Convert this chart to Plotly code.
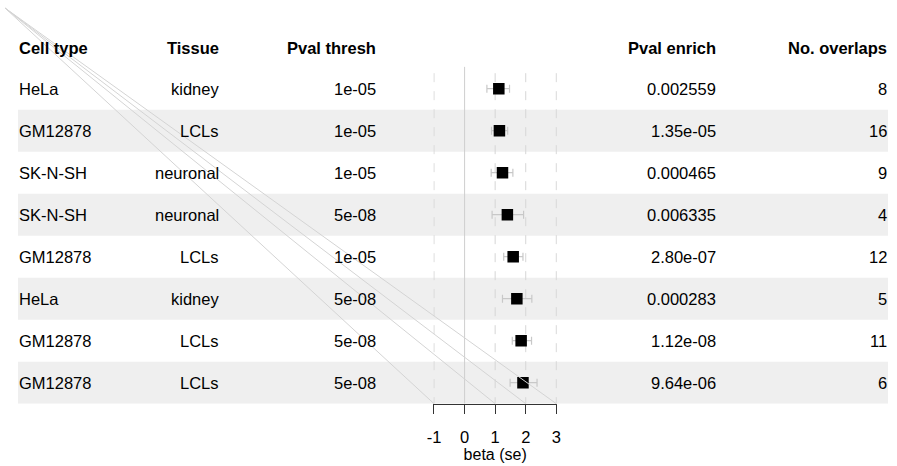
import plotly.graph_objects as go

# ---- data ----
cell_types = ["HeLa", "GM12878", "SK-N-SH", "SK-N-SH", "GM12878", "HeLa", "GM12878", "GM12878"]
tissues = ["kidney", "LCLs", "neuronal", "neuronal", "LCLs", "kidney", "LCLs", "LCLs"]
pval_thresh = ["1e-05", "1e-05", "1e-05", "5e-08", "1e-05", "5e-08", "5e-08", "5e-08"]
pval_enrich = ["0.002559", "1.35e-05", "0.000465", "0.006335", "2.80e-07", "0.000283", "1.12e-08", "9.64e-06"]
n_overlaps = [8, 16, 9, 4, 12, 5, 11, 6]
beta = [1.12, 1.14, 1.24, 1.40, 1.59, 1.71, 1.85, 1.91]
ci_lo = [0.73, 0.88, 0.87, 0.90, 1.28, 1.24, 1.56, 1.49]
ci_hi = [1.47, 1.41, 1.58, 1.93, 1.91, 2.20, 2.19, 2.37]
headers = ["Cell type", "Tissue", "Pval thresh", "Pval enrich", "No. overlaps"]
x_ticks = [-1, 0, 1, 2, 3]
grid_x = [-1, 1, 2, 3]

# ---- layout constants ----
W, H = 897, 466
FONT = "Liberation Sans, Arial, Helvetica, sans-serif"
FS = 16.5
rows = list(range(1, len(beta) + 1))
y_bottom = len(beta) + 0.5
y_top = 1 - 88.7 / 42.0
y_dom0 = (H - 403.7) / H
x_range = [-1.02, 3.02]
px_per_unit = (556.3 - 434.0) / 4.0
x_dom0 = (434.0 - 0.02 * px_per_unit) / W
x_dom1 = (556.3 + 0.02 * px_per_unit) / W


def x_to_paper(v):
    return x_dom0 + (v - x_range[0]) / (x_range[1] - x_range[0]) * (x_dom1 - x_dom0)


fig = go.Figure()

err_plus = [h - b for h, b in zip(ci_hi, beta)]
err_minus = [b - l for b, l in zip(beta, ci_lo)]
fig.add_trace(go.Scatter(
    x=beta, y=rows, mode="markers",
    marker=dict(symbol="square", size=11.5, color="black", line=dict(width=0)),
    error_x=dict(type="data", array=err_plus, arrayminus=err_minus,
                 color="#c8c8c8", thickness=1.2, width=4),
    showlegend=False, hoverinfo="skip",
))

shapes = []
# zebra bands
for r in rows:
    if r % 2 == 0:
        shapes.append(dict(type="rect", xref="paper", yref="y",
                           x0=18 / W, x1=888 / W, y0=r - 0.5, y1=r + 0.5,
                           fillcolor="#efefef", line=dict(width=0), layer="below"))
# reference line at 0
shapes.append(dict(type="line", xref="x", yref="y", x0=0, x1=0, y0=0.48, y1=y_bottom,
                   line=dict(color="#cfcfcf", width=1), layer="below"))
# dashed grid lines
for g in grid_x:
    shapes.append(dict(type="line", xref="x", yref="y", x0=g, x1=g, y0=0.63, y1=y_bottom,
                       line=dict(color="#d6d6d6", width=1, dash="dash"), layer="below"))
# stray diagonal lines from the top-left corner to grid line bottoms
for g in grid_x:
    shapes.append(dict(type="line", xref="paper", yref="paper",
                       x0=5 / W, y0=1 - 8 / H, x1=x_to_paper(g), y1=y_dom0,
                       line=dict(color="#d4d4d4", width=1), layer="above"))

annotations = []
header_y = 0.03
col_x = [19, 219, 376, 716, 887]
col_anchor = ["left", "right", "right", "right", "right"]
for h, cx, an in zip(headers, col_x, col_anchor):
    annotations.append(dict(text="<b>%s</b>" % h, x=cx / W, y=header_y, xref="paper", yref="y",
                            xanchor=an, yanchor="middle", showarrow=False, borderpad=0, borderwidth=0,
                            font=dict(family=FONT, size=FS, color="black")))
columns = [cell_types, tissues, pval_thresh, pval_enrich, [str(n) for n in n_overlaps]]
for col, cx, an in zip(columns, col_x, col_anchor):
    for r, val in zip(rows, col):
        annotations.append(dict(text=val, x=cx / W, y=r, xref="paper", yref="y",
                                xanchor=an, yanchor="middle", showarrow=False, borderpad=0, borderwidth=0,
                                font=dict(family=FONT, size=FS, color="black")))

fig.update_layout(
    template="none",
    autosize=False,
    width=W, height=H,
    margin=dict(l=0, r=0, t=0, b=0, pad=0, autoexpand=False),
    paper_bgcolor="white", plot_bgcolor="white",
    font=dict(family=FONT, size=FS, color="black"),
    shapes=shapes, annotations=annotations,
    xaxis=dict(domain=[x_dom0, x_dom1], range=x_range, tickvals=x_ticks,
               ticktext=[str(t) for t in x_ticks], automargin=False,
               showgrid=False, zeroline=False, showline=True, linecolor="#333333", linewidth=1,
               ticks="outside", ticklen=9, tickcolor="#333333", tickwidth=1,
               ticklabelstandoff=9,
               tickfont=dict(family=FONT, size=FS, color="black"),
               title=dict(text="beta (se)", font=dict(family=FONT, size=FS - 0.5, color="black"),
                          standoff=4),
               fixedrange=True),
    yaxis=dict(domain=[y_dom0, 1], range=[y_bottom, y_top], visible=False,
               automargin=False, fixedrange=True),
)

fig.write_html("out.html", config={"displayModeBar": False},
               post_script="document.body.style.margin='0';document.body.style.overflow='hidden';")
